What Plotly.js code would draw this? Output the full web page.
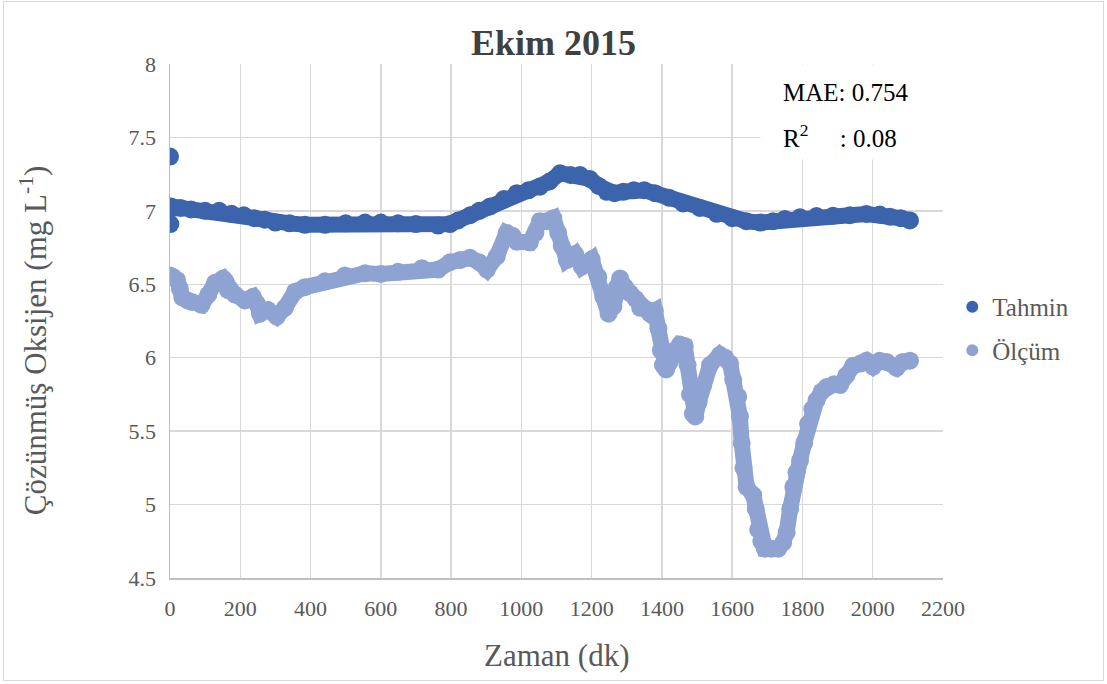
<!DOCTYPE html>
<html>
<head>
<meta charset="utf-8">
<script src="https://cdn.plot.ly/plotly-3.0.1.min.js"></script>
<style>
  html, body { margin: 0; padding: 0; background: #ffffff; }
  #wrap { position: relative; width: 1107px; height: 684px; overflow: hidden; }
  #chart { position: absolute; left: 0; top: 0; width: 1107px; height: 684px; }
  #frame { position: absolute; left: 3px; top: 1px; width: 1099px; height: 678px; border: 1px solid #d9d9d9; pointer-events: none; }
  #chart .xtick text, #chart .ytick text, #chart .legendtext { font-family: "Liberation Serif", "Times New Roman", serif !important; }
</style>
</head>
<body>
<div id="wrap">
  <div id="chart"></div>
  <div id="frame"></div>
</div>
<script>
// ---- Data ----
const tahminX = [0, 1, 3, 10, 30, 60, 100, 140, 175, 210, 240, 270, 300, 340, 384, 441, 500, 555, 600, 649, 700, 763, 797, 820, 854, 880, 911, 950, 987, 1020, 1053, 1080, 1110, 1140, 1167, 1195, 1220, 1243, 1265, 1290, 1320, 1350, 1380, 1420, 1460, 1508, 1556, 1600, 1640, 1680, 1716, 1750, 1793, 1840, 1887, 1935, 1982, 2020, 2049, 2080, 2106];
const tahminY = [7.37, 6.91, 7.03, 7.02, 7.02, 7.01, 7.0, 7.0, 6.98, 6.97, 6.95, 6.94, 6.92, 6.915, 6.905, 6.905, 6.915, 6.92, 6.92, 6.915, 6.91, 6.9, 6.91, 6.935, 6.97, 7.0, 7.03, 7.08, 7.12, 7.14, 7.165, 7.2, 7.256, 7.245, 7.244, 7.217, 7.17, 7.13, 7.12, 7.13, 7.14, 7.14, 7.12, 7.09, 7.05, 7.02, 6.98, 6.95, 6.93, 6.92, 6.93, 6.945, 6.956, 6.965, 6.967, 6.97, 6.979, 6.975, 6.96, 6.95, 6.935];

const olcumX = [0, 8, 20, 28, 35, 50, 62, 90, 109, 128, 151, 158, 165, 185, 213, 236, 247, 256, 279, 304, 327, 356, 384, 441, 498, 555, 600, 649, 717, 763, 797, 825, 854, 880, 902, 930, 958, 975, 987, 1024, 1040, 1053, 1072, 1091, 1105, 1115, 1129, 1153, 1172, 1200, 1219, 1233, 1248, 1262, 1272, 1281, 1295, 1309, 1325, 1338, 1355, 1366, 1380, 1390, 1397, 1403, 1412, 1422, 1437, 1451, 1465, 1473, 1480, 1488, 1495, 1505, 1517, 1537, 1565, 1580, 1594, 1603, 1617, 1622, 1627, 1632, 1641, 1660, 1667, 1674, 1683, 1693, 1712, 1731, 1745, 1755, 1765, 1774, 1783, 1793, 1805, 1816, 1828, 1840, 1855, 1869, 1890, 1907, 1925, 1944, 1965, 1982, 2001, 2020, 2040, 2068, 2085, 2106];
const olcumY = [6.56, 6.55, 6.53, 6.47, 6.41, 6.39, 6.38, 6.36, 6.43, 6.51, 6.54, 6.52, 6.46, 6.43, 6.39, 6.415, 6.37, 6.30, 6.325, 6.28, 6.34, 6.45, 6.48, 6.52, 6.56, 6.575, 6.57, 6.585, 6.61, 6.6, 6.65, 6.665, 6.68, 6.65, 6.60, 6.69, 6.85, 6.83, 6.79, 6.785, 6.85, 6.93, 6.93, 6.95, 6.85, 6.76, 6.665, 6.706, 6.62, 6.67, 6.55, 6.415, 6.30, 6.35, 6.48, 6.54, 6.48, 6.44, 6.40, 6.34, 6.33, 6.30, 6.32, 6.2, 6.05, 5.95, 5.92, 5.97, 6.05, 6.09, 6.08, 5.95, 5.75, 5.62, 5.6, 5.7, 5.81, 5.95, 6.02, 6.0, 5.96, 5.85, 5.735, 5.6, 5.42, 5.25, 5.12, 5.065, 4.97, 4.83, 4.75, 4.70, 4.70, 4.70, 4.74, 4.81, 4.97, 5.12, 5.22, 5.30, 5.42, 5.55, 5.65, 5.71, 5.77, 5.80, 5.82, 5.815, 5.88, 5.945, 5.96, 5.98, 5.94, 5.98, 5.97, 5.93, 5.97, 5.98];

const seriesNames = ['Tahmin', 'Ölçüm'];
const xTicks = [0, 200, 400, 600, 800, 1000, 1200, 1400, 1600, 1800, 2000, 2200];
const yTicks = [4.5, 5, 5.5, 6, 6.5, 7, 7.5, 8];
const chartTitle = 'Ekim 2015';
const xTitle = 'Zaman (dk)';
const yTitle = 'Çözünmüş Oksijen (mg L<sup>-1</sup>)';
const maeText = 'MAE: 0.754';
const r2Text = 'R<sup>2</sup>\u00A0\u00A0\u00A0\u00A0\u00A0: 0.08';

// ---- Styling ----
const cTahmin = '#3B64AD';
const cOlcum = '#8FA3D3';
const serif = 'Liberation Serif, Times New Roman, serif';
const grey = '#595959';
const MS = 18;
const LW = 16;

const traces = [
  { x: tahminX.slice(2), y: tahminY.slice(2), type: 'scatter', mode: 'lines', line: { color: cTahmin, width: LW }, showlegend: false, hoverinfo: 'skip' },
  { x: tahminX, y: tahminY, type: 'scatter', mode: 'markers', name: seriesNames[0], legendgroup: 'g1', marker: { color: cTahmin, size: MS } },
  { x: olcumX, y: olcumY, type: 'scatter', mode: 'lines', line: { color: cOlcum, width: LW }, showlegend: false, hoverinfo: 'skip' },
  { x: olcumX, y: olcumY, type: 'scatter', mode: 'markers', name: seriesNames[1], legendgroup: 'g2', marker: { color: cOlcum, size: MS } }
];

const layout = {
  width: 1107, height: 684,
  paper_bgcolor: '#ffffff', plot_bgcolor: '#ffffff',
  margin: { l: 170, r: 164, t: 64, b: 106 },
  font: { family: serif, color: grey, size: 22 },
  title: { text: '<b>' + chartTitle + '</b>', font: { family: serif, size: 36, color: '#404040' }, x: 0.5, xanchor: 'center', y: 1 - 42 / 684, yanchor: 'middle' },
  xaxis: {
    range: [0, 2200], tickvals: xTicks, ticktext: xTicks.map(String),
    showgrid: true, gridcolor: '#d9d9d9', gridwidth: 1.5,
    showline: true, linecolor: '#bfbfbf', linewidth: 1.5,
    zeroline: false, ticks: '', ticklabelstandoff: 10,
    tickfont: { family: serif, size: 22, color: grey }
  },
  yaxis: {
    range: [4.5, 8], tickvals: yTicks, ticktext: yTicks.map(String),
    showgrid: true, gridcolor: '#d9d9d9', gridwidth: 1.5,
    showline: true, linecolor: '#bfbfbf', linewidth: 1.5,
    zeroline: false, ticks: '', ticklabelstandoff: 8,
    tickfont: { family: serif, size: 22, color: grey }
  },
  legend: {
    x: 1.012, xanchor: 'left', y: 0.572, yanchor: 'top',
    font: { family: serif, size: 25, color: grey },
    itemsizing: 'constant', bgcolor: 'rgba(0,0,0,0)',
    tracegroupgap: 8
  },
  annotations: [
    { xref: 'paper', yref: 'paper', x: -0.177, y: 0.463, xanchor: 'center', yanchor: 'middle', textangle: -90, showarrow: false, text: yTitle, font: { family: serif, size: 31, color: grey } },
    { xref: 'paper', yref: 'paper', x: 0.5, y: -(655 - 578) / 514, xanchor: 'center', yanchor: 'middle', showarrow: false, text: xTitle, font: { family: serif, size: 31, color: grey } },
    { xref: 'paper', yref: 'paper', x: (760 - 170) / 773, y: 1, xanchor: 'left', yanchor: 'top', showarrow: false, text: '\u00A0', width: 180, height: 92, bgcolor: '#ffffff' },
    { xref: 'paper', yref: 'paper', x: (781 - 170) / 773, y: 1 - (92 - 64) / 514, xanchor: 'left', yanchor: 'middle', showarrow: false, text: maeText, font: { family: serif, size: 25, color: '#000000' } },
    { xref: 'paper', yref: 'paper', x: (781 - 170) / 773, y: 1 - (136 - 64) / 514, xanchor: 'left', yanchor: 'middle', showarrow: false, text: r2Text, font: { family: serif, size: 25, color: '#000000' } }
  ]
};

Plotly.newPlot('chart', traces, layout, { displayModeBar: false, staticPlot: true });
</script>
</body>
</html>
